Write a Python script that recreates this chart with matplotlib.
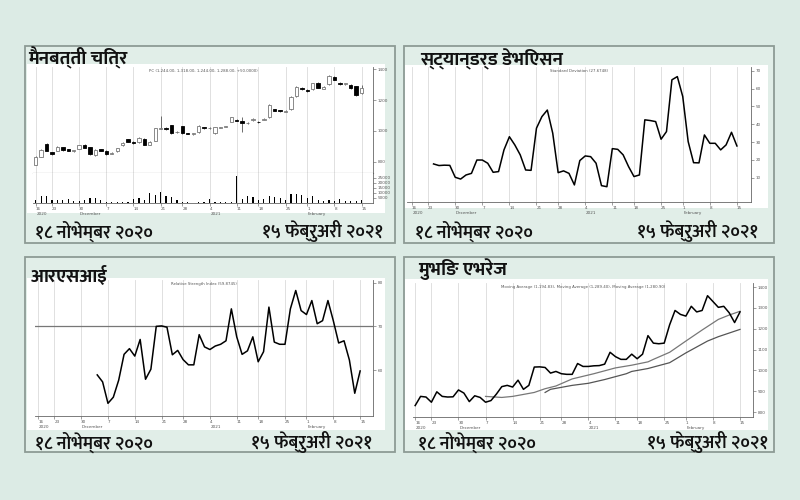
import matplotlib
matplotlib.use('Agg')
import matplotlib.pyplot as plt
from matplotlib.patches import Rectangle
import numpy as np

# ---------------- data ----------------
close = [831, 875, 872, 847, 897, 875, 872, 873, 906, 891,
         850, 878, 870, 847, 855, 886, 922, 928, 920, 953,
         909, 928, 1016, 1017, 1014, 987, 995, 984, 981, 981,
         1033, 1019, 1019, 1022, 1023, 1030, 1087, 1066, 1053, 1053,
         1078, 1056, 1078, 1167, 1131, 1128, 1131, 1219, 1288, 1269,
         1261, 1308, 1281, 1288, 1359, 1331, 1303, 1308, 1277, 1230,
         1281]
open_ = [780, 833, 915, 860, 872, 892, 880, 872, 885, 908,
         893, 842, 880, 872, 852, 866, 905, 945, 930, 925,
         950, 910, 935, 1012, 1020, 1035, 990, 1030, 983, 980,
         990, 1024, 1018, 985, 1020, 1025, 1060, 1068, 1062, 1050,
         1068, 1060, 1072, 1090, 1140, 1135, 1125, 1140, 1225, 1278,
         1265, 1270, 1310, 1275, 1305, 1352, 1312, 1305, 1300, 1290,
         1245]
high = [838, 880, 920, 862, 900, 895, 884, 878, 910, 912,
        895, 882, 884, 874, 860, 890, 926, 950, 935, 958,
        955, 932, 1020, 1095, 1025, 1038, 998, 1032, 988, 985,
        1036, 1028, 1024, 1025, 1028, 1034, 1092, 1075, 1088, 1058,
        1082, 1066, 1082, 1172, 1145, 1138, 1135, 1224, 1292, 1282,
        1270, 1312, 1315, 1292, 1364, 1356, 1318, 1312, 1304, 1294,
        1300]
low = [775, 830, 868, 842, 868, 872, 868, 865, 882, 888,
       846, 838, 866, 843, 848, 862, 900, 925, 915, 920,
       905, 905, 932, 1010, 1008, 982, 985, 980, 978, 975,
       985, 1015, 1015, 982, 1018, 1022, 1055, 1062, 990, 1046,
       1064, 1052, 1068, 1085, 1128, 1124, 1120, 1135, 1220, 1265,
       1255, 1266, 1278, 1270, 1300, 1328, 1300, 1300, 1272, 1226,
       1242]
volume = [2700, 7300, 6700, 2700, 3300, 3300, 4000, 1700, 2000, 2700,
          5000, 4700, 2700, 1300, 700, 700, 700, 700, 4000, 5000,
          2700, 10000, 8300, 10700, 7300, 6000, 2700, 1300, 700, 300,
          700, 700, 4000, 1000, 1000, 1000, 1000, 27000, 4000, 6700,
          6000, 2700, 4000, 7300, 6000, 5000, 2700, 9300, 9300, 8300,
          5000, 7300, 3300, 1700, 2700, 1700, 4000, 1700, 1700, 1700,
          2700]

std_start = 4
std_dev = [17.7, 16.8, 17.0, 16.9, 10.2, 9.2, 11.5, 12.4, 19.9, 19.9,
           18.1, 13.0, 13.4, 25.6, 33.0, 28.4, 22.8, 14.3, 14.1, 37.8,
           44.3, 48.0, 35.0, 12.8, 13.8, 12.4, 5.9, 19.6, 22.2, 21.8,
           18.1, 5.5, 4.9, 26.3, 25.9, 22.8, 16.2, 10.6, 11.5, 42.5,
           42.1, 41.5, 31.6, 35.9, 65.0, 66.8, 55.6, 30.3, 18.4, 18.3,
           34.0, 29.3, 29.3, 25.6, 28.4, 35.5, 27.8]

rsi_start = 11
rsi = [58.9, 57.3, 52.4, 53.8, 57.7, 63.6, 64.9, 63.2, 67.0, 57.9,
       60.2, 70.0, 70.1, 69.8, 63.5, 64.5, 62.4, 61.2, 61.2, 68.1,
       65.3, 64.7, 65.5, 65.9, 66.7, 74.0, 67.6, 63.6, 64.4, 67.6,
       61.9, 64.2, 74.4, 66.4, 65.9, 65.9, 74.0, 78.2, 73.6, 72.7,
       75.9, 70.6, 71.3, 75.9, 71.3, 66.2, 66.7, 62.3, 54.7, 59.8]

ma1_idx = [13, 16, 18, 22, 24, 26, 29, 33, 37, 40, 43, 44, 47, 50, 53, 56, 58, 60]
ma1 = [875, 870, 875, 894, 912, 925, 959, 984, 1012, 1025, 1041, 1053, 1087, 1141, 1194, 1245, 1266, 1284]
ma2_idx = [24, 25, 29, 32, 35, 39, 40, 43, 47, 50, 54, 56, 60]
ma2 = [894, 909, 928, 938, 956, 984, 995, 1009, 1037, 1084, 1141, 1162, 1197]

tick_idx = [0, 3, 8, 13, 18, 23, 27, 32, 37, 41, 46, 50, 55, 60]
tick_labels = ['16', '23', '30', '7', '14', '21', '28', '4', '11', '18', '25', '1', '8', '15']
month_idx = [0, 8, 32, 50]
month_labels = ['2020', 'December', '2021', 'February']

titles = ['मैनबत्ती चित्र', 'स्ट्यान्डर्ड डेभिएसन', 'आरएसआई', 'मुभिङ एभरेज']
date_from = '१८ नोभेम्बर २०२०'
date_to = '१५ फेब्रुअरी २०२१'

chart_titles = ['PC (1,244.00, 1,318.00, 1,244.00, 1,288.00, +50.0000)',
                'Standard Deviation (27.6748)',
                'Relative Strength Index (59.8745)',
                'Moving Average (1,194.83), Moving Average (1,289.40), Moving Average (1,280.90)']

# ---------------- style ----------------
BG = '#dcebe5'
PANEL = '#e1eee8'
BORDER = '#8d9b95'
DEV = ['Ek Mukta', 'Noto Sans Devanagari', 'DejaVu Sans']
W, H = 800, 500

fig = plt.figure(figsize=(8, 5), dpi=100, facecolor=BG)


def box(l, t, r, b):
    return [l / W, 1 - b / H, (r - l) / W, (b - t) / H]


def rect(l, t, r, b, fc, ec='none', lw=0):
    fig.patches.append(Rectangle((l / W, 1 - b / H), (r - l) / W, (b - t) / H,
                                 transform=fig.transFigure, facecolor=fc,
                                 edgecolor=ec, linewidth=lw, zorder=-2))


def style_chart(ax, xlim, xlabels=True):
    ax.set_zorder(2)
    ax.set_xlim(*xlim)
    ax.set_facecolor('white')
    ax.spines['top'].set_visible(False)
    ax.spines['left'].set_visible(False)
    for s in ['bottom', 'right']:
        ax.spines[s].set_color('#666666')
        ax.spines[s].set_linewidth(0.6)
    ax.yaxis.tick_right()
    ax.tick_params(labelsize=3, colors='#555555', length=2, width=0.4, pad=1.2)
    ax.set_xticks(tick_idx)
    ax.grid(axis='x', color='#dadada', lw=0.6)
    ax.set_axisbelow(True)
    if xlabels:
        ax.set_xticklabels(tick_labels, ha='left')
        for i, lab in zip(month_idx, month_labels):
            ax.annotate(lab, (i, 0), xycoords=('data', 'axes fraction'),
                        xytext=(0.5, -6.2), textcoords='offset points',
                        fontsize=3, color='#555555', ha='left', va='top')
    else:
        ax.set_xticklabels([])
        ax.tick_params(axis='x', length=0)


def chart_title(ax, s):
    ax.text(0.5, 0.985, s, transform=ax.transAxes, ha='center', va='top',
            fontsize=2.8, color='#555555')


# panel frames
panels = [(25, 46, 395, 243), (404, 46, 774, 243), (25, 257, 395, 452), (404, 257, 774, 452)]
whites = [(27, 64, 385, 213), (405, 65, 768, 208), (27, 278, 385, 430), (405, 279, 768, 430)]
for (l, t, r, b), (wl, wt, wr, wb) in zip(panels, whites):
    rect(l, t, r, b, PANEL, BORDER, 1.3)
    rect(wl, wt, wr, wb, 'white')

x = np.arange(len(close))

# ---- panel 1: candlestick + volume ----
ax1 = fig.add_axes(box(33, 67, 373, 173))
style_chart(ax1, (-0.5, 62.1), xlabels=False)
o = np.array(open_)
c = np.array(close)
up = c >= o
body_bottom = np.minimum(o, c)
body_h = np.maximum(np.abs(c - o), 3)
ax1.vlines(x, low, high, color='#555555', lw=0.6, zorder=2)
ax1.bar(x[up], body_h[up], bottom=body_bottom[up], width=0.62,
        facecolor='white', edgecolor='#777777', linewidth=0.6, zorder=3)
ax1.bar(x[~up], body_h[~up], bottom=body_bottom[~up], width=0.62,
        facecolor='black', edgecolor='black', linewidth=0.6, zorder=3)
ax1.set_ylim(726, 1415)
ax1.set_yticks([800, 1000, 1200, 1400])
ax1.spines['bottom'].set_color('#555555')
ax1.spines['bottom'].set_linewidth(0.8)
chart_title(ax1, chart_titles[0])

ax1v = fig.add_axes(box(33, 173, 373, 203))
style_chart(ax1v, (-0.5, 62.1))
ax1v.bar(x, volume, width=0.22, color='black')
ax1v.set_ylim(0, 29600)
ax1v.set_yticks([5000, 10000, 15000, 20000, 25000])

# ---- panel 2: standard deviation ----
ax2 = fig.add_axes(box(407, 67, 751, 202))
style_chart(ax2, (-0.9, 62.6))
ax2.plot(np.arange(std_start, std_start + len(std_dev)), std_dev, color='black', lw=1.1)
ax2.set_ylim(-3.7, 72.2)
ax2.set_yticks([10, 20, 30, 40, 50, 60, 70])
chart_title(ax2, chart_titles[1])

# ---- panel 3: RSI ----
ax3 = fig.add_axes(box(35, 280, 373, 416))
style_chart(ax3, (-0.6, 62.4))
ax3.axhline(70, color='#777777', lw=0.9)
ax3.plot(np.arange(rsi_start, rsi_start + len(rsi)), rsi, color='black', lw=1.1)
ax3.set_ylim(49.5, 80.6)
ax3.set_yticks([60, 70, 80])
chart_title(ax3, chart_titles[2])

# ---- panel 4: moving averages ----
ax4 = fig.add_axes(box(413, 283, 753, 417))
style_chart(ax4, (-0.4, 62.4))
ax4.plot(x, close, color='black', lw=1.1, zorder=3)
ax4.plot(ma1_idx, ma1, color='#777777', lw=0.9)
ax4.plot(ma2_idx, ma2, color='#555555', lw=0.9)
ax4.set_ylim(776, 1420)
ax4.set_yticks([800, 900, 1000, 1100, 1200, 1300, 1400])
chart_title(ax4, chart_titles[3])

# ---- Nepali titles and dates ----
title_pos = [(28, 58), (420, 59), (31, 276), (418, 269)]
for (tx, ty), t in zip(title_pos, titles):
    fig.text(tx / W, 1 - ty / H, t, family=DEV, fontsize=13.5, weight='bold',
             ha='left', va='center', color='#111111', zorder=5)

date_pos = [(35, 383, 231), (415, 758, 231), (35, 372, 442), (418, 768, 442)]
for lx, rx, ty in date_pos:
    fig.text(lx / W, 1 - ty / H, date_from, family=DEV, fontsize=13, weight='semibold',
             ha='left', va='center', color='#111111', zorder=5)
    fig.text(rx / W, 1 - ty / H, date_to, family=DEV, fontsize=13, weight='semibold',
             ha='right', va='center', color='#111111', zorder=5)

fig.savefig('out.png', dpi=100, facecolor=BG)
